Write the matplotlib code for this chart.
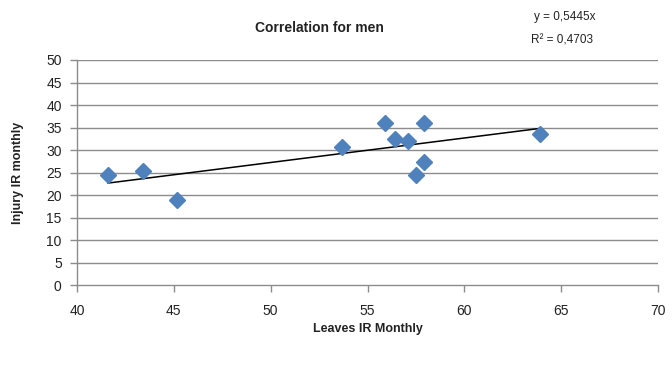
import matplotlib
matplotlib.use("Agg")
import matplotlib.pyplot as plt
import numpy as np

plt.rcParams['font.family'] = ['Liberation Sans', 'DejaVu Sans']

# leaves vs injury incidence rates (monthly), men
leaves_ir = [41.6, 43.4, 45.15, 53.7, 55.9, 56.4, 57.1, 57.9, 57.9, 57.5, 63.9]
injury_ir = [24.5, 25.3, 18.9, 30.7, 36.1, 32.5, 32.0, 36.1, 27.4, 24.5, 33.6]
slope = 0.5445
r_squared = 0.4703

x_ticks = [40, 45, 50, 55, 60, 65, 70]
y_ticks = [0, 5, 10, 15, 20, 25, 30, 35, 40, 45, 50]

fig = plt.figure(figsize=(6.72, 3.69), dpi=100)
ax = fig.add_axes([0.1146, 0.2276, 0.8646, 0.6098])

grid_col = '#8c8c8c'
for y in y_ticks[1:]:
    ax.axhline(y, color=grid_col, lw=1.0, zorder=1)

# linear trend through the origin, drawn over the data span
xs = np.array([min(leaves_ir), max(leaves_ir)])
ax.plot(xs, slope * xs, color='black', lw=1.1, zorder=2)

ax.plot(leaves_ir, injury_ir, linestyle='none', marker='D', markersize=8,
        color='#4F81BD', markeredgecolor='#4F81BD', zorder=3)

ax.set_xlim(40, 70)
ax.set_ylim(0, 50)
ax.set_xticks(x_ticks)
ax.set_yticks(y_ticks)
ax.spines['top'].set_visible(False)
ax.spines['right'].set_visible(False)
for s in ('left', 'bottom'):
    ax.spines[s].set_color(grid_col)
    ax.spines[s].set_linewidth(1.0)
ax.tick_params(axis='both', colors=grid_col, labelcolor='#222222',
               labelsize=10, length=5, width=1.0)
ax.tick_params(axis='x', pad=9)
ax.tick_params(axis='y', pad=6)

ax.set_xlabel('Leaves IR Monthly', fontsize=9, fontweight='bold',
              color='#222222', labelpad=3)
ax.set_ylabel('Injury IR monthly', fontsize=9, fontweight='bold',
              color='#222222', labelpad=16)

fig.text(0.476, 0.925, 'Correlation for men', ha='center', va='center',
         fontsize=10, fontweight='bold', color='#222222')
fig.text(0.795, 0.955, 'y = ' + f'{slope:.4f}'.replace('.', ',') + 'x',
         ha='left', va='center', fontsize=8.5, color='#222222')
fig.text(0.79, 0.89, 'R² = ' + f'{r_squared:.4f}'.replace('.', ','),
         ha='left', va='center', fontsize=8.5, color='#222222')

fig.savefig('out.png', dpi=100)
